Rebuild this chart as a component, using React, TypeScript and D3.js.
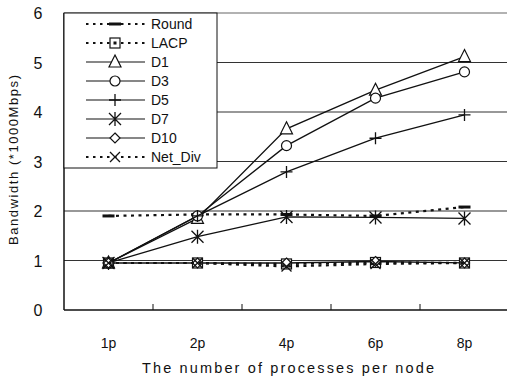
import * as d3 from "d3";
import { useEffect, useRef } from "react";

const categories = ["1p", "2p", "4p", "6p", "8p"];
const yTicks = [0, 1, 2, 3, 4, 5, 6];

const seriesNames = ["Round", "LACP", "D1", "D3", "D5", "D7", "D10", "Net_Div"];
const roundValues = [1.9, 1.93, 1.93, 1.9, 2.08];
const lacpValues = [0.95, 0.95, 0.93, 0.96, 0.95];
const d1Values = [0.95, 1.85, 3.66, 4.44, 5.12];
const d3Values = [0.95, 1.9, 3.32, 4.28, 4.81];
const d5Values = [0.95, 1.9, 2.79, 3.47, 3.94];
const d7Values = [0.95, 1.48, 1.88, 1.87, 1.85];
const d10Values = [0.95, 0.95, 0.95, 0.98, 0.95];
const netDivValues = [0.95, 0.95, 0.88, 0.93, 0.95];

const allValues = [roundValues, lacpValues, d1Values, d3Values, d5Values, d7Values, d10Values, netDivValues];
const dotted = [true, true, false, false, false, false, false, true];
const markers = ["bar", "square", "triangle", "circle", "plus", "asterisk", "diamond", "cross"];

const W = 507, H = 380;
const margin = { left: 64, top: 13, right: -2, bottom: 70 };
const font = "'Liberation Sans', 'DejaVu Sans', sans-serif";

function drawMarker(g: any, type: string, x: number, y: number) {
  const s = 6;
  if (type === "bar") {
    g.append("line").attr("x1", x - 6).attr("x2", x + 6).attr("y1", y).attr("y2", y)
      .attr("stroke", "#111").attr("stroke-width", 3);
  } else if (type === "square") {
    g.append("rect").attr("x", x - 5).attr("y", y - 5).attr("width", 10).attr("height", 10)
      .attr("fill", "white").attr("stroke", "#111").attr("stroke-width", 1.2);
    g.append("rect").attr("x", x - 1.5).attr("y", y - 1.5).attr("width", 3).attr("height", 3).attr("fill", "#111");
  } else if (type === "triangle") {
    g.append("path").attr("d", `M${x},${y - s - 1}L${x + s},${y + s - 1}L${x - s},${y + s - 1}Z`)
      .attr("fill", "white").attr("stroke", "#111").attr("stroke-width", 1.2);
  } else if (type === "circle") {
    g.append("circle").attr("cx", x).attr("cy", y).attr("r", 5)
      .attr("fill", "white").attr("stroke", "#111").attr("stroke-width", 1.2);
  } else if (type === "plus") {
    g.append("path").attr("d", `M${x - s},${y}H${x + s}M${x},${y - s}V${y + s}`)
      .attr("stroke", "#111").attr("stroke-width", 1.3);
  } else if (type === "asterisk") {
    g.append("path").attr("d", `M${x - s},${y - s}L${x + s},${y + s}M${x + s},${y - s}L${x - s},${y + s}M${x},${y - s - 1}V${y + s + 1}`)
      .attr("stroke", "#111").attr("stroke-width", 1.3);
  } else if (type === "diamond") {
    g.append("path").attr("d", `M${x},${y - 5}L${x + 5},${y}L${x},${y + 5}L${x - 5},${y}Z`)
      .attr("fill", "white").attr("stroke", "#111").attr("stroke-width", 1.2);
  } else if (type === "cross") {
    g.append("path").attr("d", `M${x - 5},${y - 5}L${x + 5},${y + 5}M${x + 5},${y - 5}L${x - 5},${y + 5}`)
      .attr("stroke", "#111").attr("stroke-width", 1.3);
  }
}

export default function App() {
  const ref = useRef<SVGSVGElement>(null);

  useEffect(() => {
    const svg = d3.select(ref.current);
    svg.selectAll("*").remove();

    const x = d3.scaleBand().domain(categories).range([margin.left, W - margin.right]);
    const y = d3.scaleLinear().domain([0, 6]).range([H - margin.bottom, margin.top]);

    // grid
    svg.append("g").selectAll("line").data(yTicks.filter(t => t > 0)).enter().append("line")
      .attr("x1", margin.left).attr("x2", W).attr("y1", d => y(d)).attr("y2", d => y(d))
      .attr("stroke", d => (d === 6 ? "#999" : "#333")).attr("stroke-width", d => (d === 6 ? 1.6 : 1.2));

    // axes
    const axisG = svg.append("g").attr("fill", "none").attr("stroke", "#111").attr("stroke-width", 1.5);
    axisG.append("line").attr("x1", margin.left).attr("x2", margin.left).attr("y1", margin.top).attr("y2", y(0));
    axisG.append("line").attr("x1", margin.left).attr("x2", W).attr("y1", y(0)).attr("y2", y(0));
    categories.slice(1).forEach(c => {
      axisG.append("line").attr("x1", x(c)!).attr("x2", x(c)!).attr("y1", y(0)).attr("y2", y(0) - 6).attr("stroke-width", 1);
    });

    svg.append("g").selectAll("text").data(yTicks).enter().append("text")
      .attr("x", 38).attr("y", d => y(d) + 6).attr("text-anchor", "middle")
      .attr("font-family", font).attr("font-size", 16).attr("fill", "#111").text(d => d);

    svg.append("g").selectAll("text").data(categories).enter().append("text")
      .attr("x", d => x(d)! + x.bandwidth() / 2).attr("y", 348).attr("text-anchor", "middle")
      .attr("font-family", font).attr("font-size", 14).attr("fill", "#111").text(d => d);

    svg.append("text").attr("x", 288).attr("y", 373).attr("text-anchor", "middle")
      .attr("font-family", font).attr("font-size", 14.5).attr("fill", "#111")
      .attr("textLength", 292).attr("lengthAdjust", "spacing")
      .text("The number of processes per node");

    svg.append("text").attr("transform", "translate(18,160) rotate(-90)").attr("text-anchor", "middle")
      .attr("font-family", font).attr("font-size", 13).attr("fill", "#111")
      .attr("textLength", 170).attr("lengthAdjust", "spacing")
      .text("Bandwidth\u00a0(*1000Mbps)");

    const cx = (c: string) => x(c)! + x.bandwidth() / 2;
    const line = d3.line<number>().x((_, i) => cx(categories[i])).y(d => y(d));

    allValues.forEach((vals, si) => {
      const g = svg.append("g");
      g.append("path").attr("d", line(vals)).attr("fill", "none").attr("stroke", "#111")
        .attr("stroke-width", dotted[si] ? 2.2 : 1.3)
        .attr("stroke-dasharray", dotted[si] ? "3,4.5" : null);
      vals.forEach((v, i) => drawMarker(g, markers[si], cx(categories[i]), y(v)));
    });

    // legend
    const lg = svg.append("g");
    lg.append("rect").attr("x", margin.left).attr("y", margin.top).attr("width", 153).attr("height", 155)
      .attr("fill", "white").attr("stroke", "#111").attr("stroke-width", 1);
    seriesNames.forEach((name, i) => {
      const ly = 24 + i * 19;
      lg.append("line").attr("x1", 86).attr("x2", 145).attr("y1", ly).attr("y2", ly)
        .attr("stroke", "#111").attr("stroke-width", dotted[i] ? 2 : 1.2)
        .attr("stroke-dasharray", dotted[i] ? "2.5,4.5" : null);
      drawMarker(lg, markers[i], 115, ly);
      lg.append("text").attr("x", 151).attr("y", ly + 5).attr("font-family", font).attr("font-size", 14)
        .attr("fill", "#111").text(name);
    });
  }, []);

  return (
    <svg ref={ref} width={W} height={H} style={{ position: "absolute", left: 0, top: 0, background: "white" }} />
  );
}
